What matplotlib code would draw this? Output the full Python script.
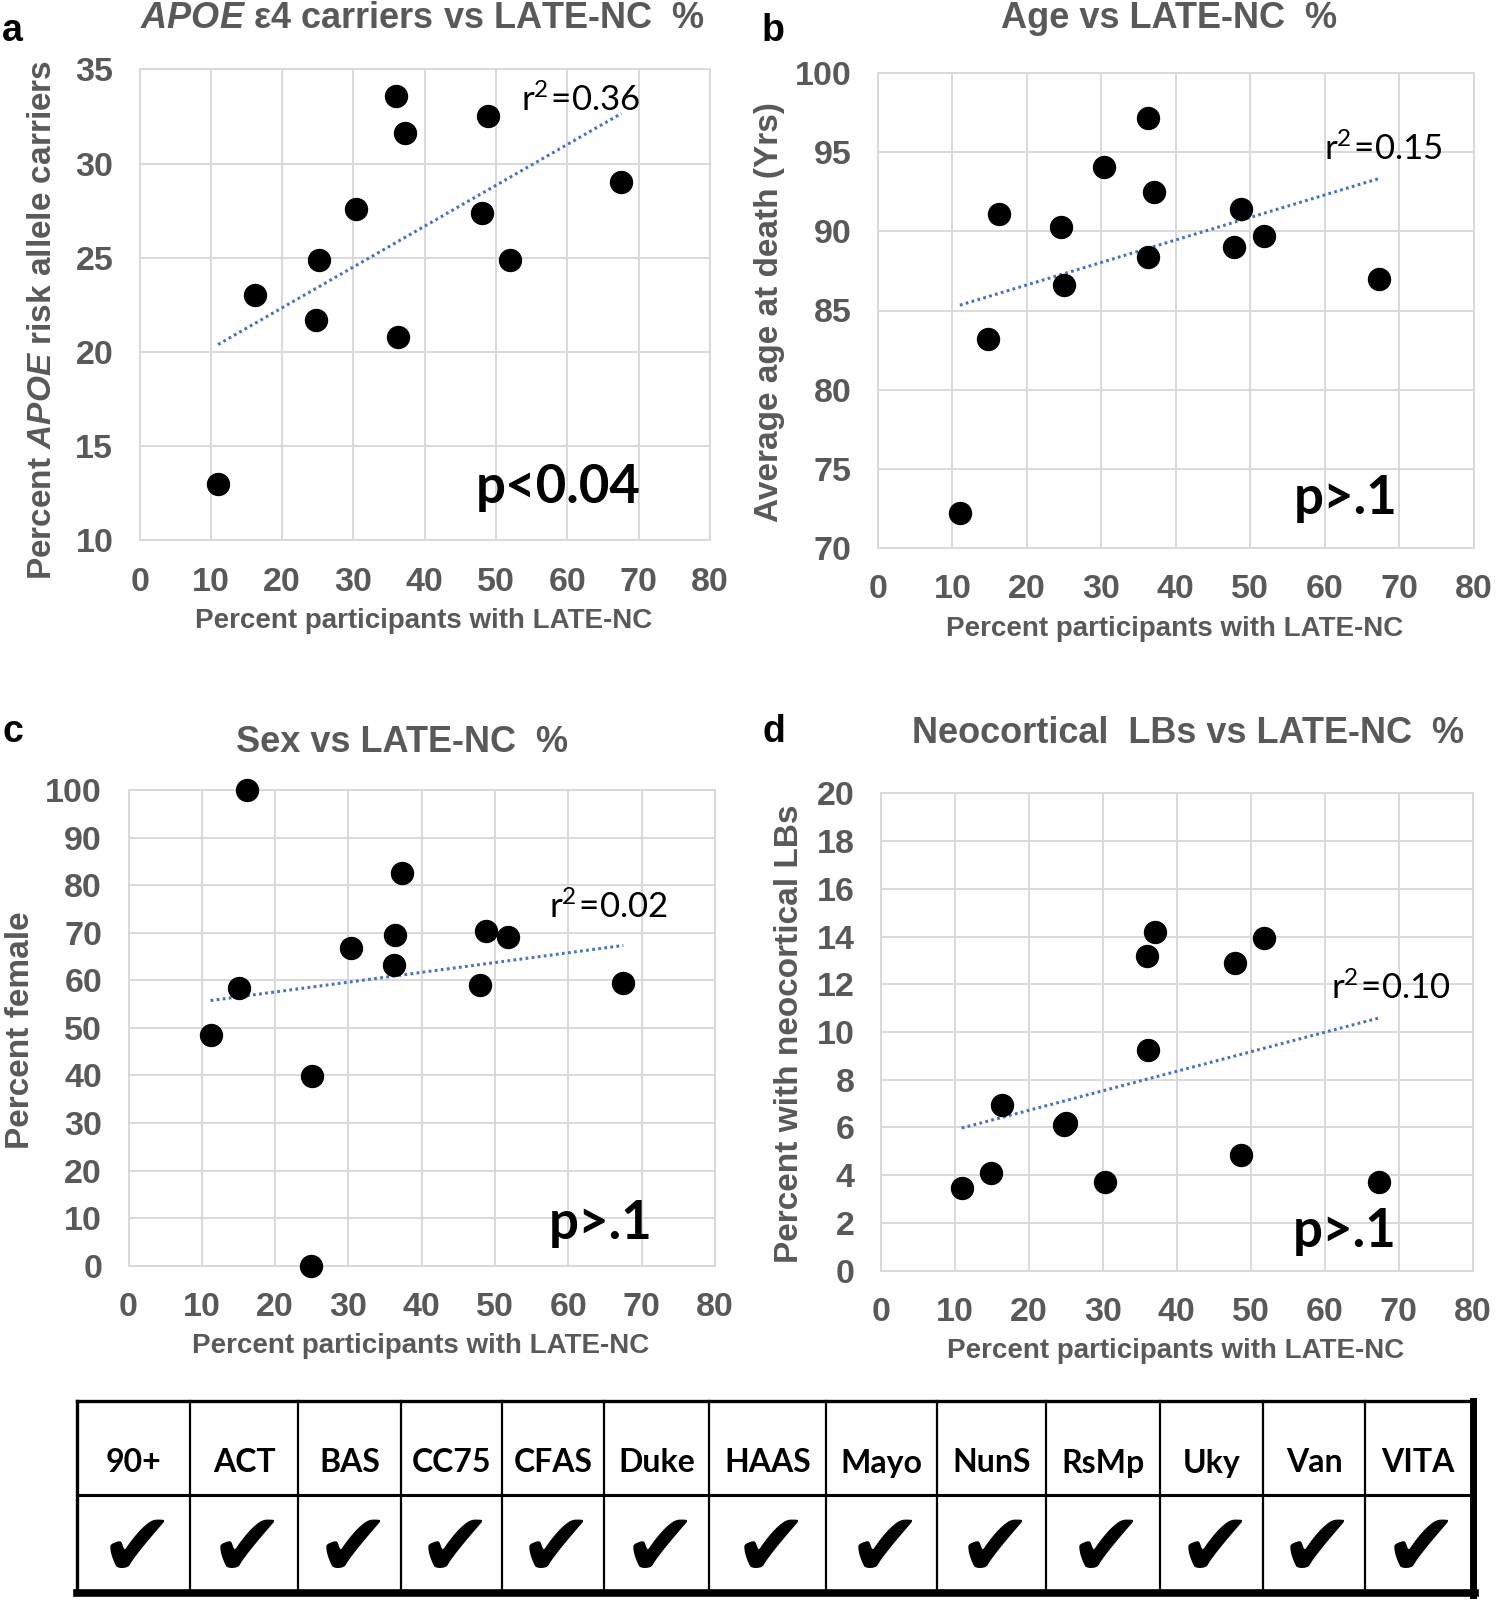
import matplotlib
matplotlib.use("Agg")
import matplotlib.pyplot as plt
import numpy as np

plt.rcParams['mathtext.fontset'] = 'custom'
plt.rcParams['mathtext.it'] = 'Liberation Sans:italic:bold'
plt.rcParams['mathtext.rm'] = 'Liberation Sans:bold'
plt.rcParams['mathtext.bf'] = 'Liberation Sans:bold'
plt.rcParams['mathtext.sf'] = 'Lato'

# ---------------- data ----------------
apoe_x = [11.0, 16.2, 24.7, 25.1, 30.3, 36.0, 37.2, 36.2, 48.1, 48.9, 51.9, 67.6]
apoe_y = [13.0, 23.0, 21.7, 24.9, 27.6, 33.6, 31.6, 20.8, 27.4, 32.5, 24.9, 29.0]

age_x = [11.0, 14.8, 16.3, 24.6, 25.0, 30.3, 36.2, 37.1, 36.2, 47.8, 48.8, 51.9, 67.3]
age_y = [72.2, 83.2, 91.1, 90.3, 86.6, 94.1, 97.15, 92.5, 88.4, 89.0, 91.45, 89.7, 87.0]

sex_x = [11.2, 15.1, 16.2, 25.0, 24.9, 30.3, 36.4, 36.2, 37.3, 48.0, 48.75, 51.8, 67.5]
sex_y = [48.6, 58.4, 100.0, 39.9, 0.0, 66.85, 69.5, 63.2, 82.7, 59.1, 70.5, 69.1, 59.5]

lb_x = [10.9, 14.8, 16.3, 24.7, 25.0, 30.3, 35.9, 37.0, 36.1, 47.85, 48.7, 51.8, 67.3]
lb_y = [3.45, 4.1, 6.95, 6.1, 6.2, 3.73, 13.2, 14.2, 9.24, 12.9, 4.86, 13.95, 3.73]

r2_values = ["0.36", "0.15", "0.02", "0.10"]
p_labels = ["p<0.04", "p>.1", "p>.1", "p>.1"]

cohorts = ["90+", "ACT", "BAS", "CC75", "CFAS", "Duke", "HAAS", "Mayo",
           "NunS", "RsMp", "Uky", "Van", "VITA"]
included = [True] * 13

# ---------------- layout ----------------
W, H = 1496, 1599
GRAY = "#595959"
fig = plt.figure(figsize=(W / 100, H / 100), dpi=100)


def fx(px):
    return px / W


def fy(py):
    return 1 - py / H


def r2_label(v):
    return r"$\mathsf{r^{2}\!=\!" + v + "}$"


def panel(rect, x, y, ylim, ystep, r2txt, r2pos, ptxt, ppos):
    l, r, t, b = rect
    ax = fig.add_axes([fx(l), fy(b), (r - l) / W, (b - t) / H])
    ax.set_xlim(0, 80)
    ax.set_ylim(*ylim)
    ax.set_xticks(np.arange(0, 81, 10))
    ax.set_yticks(np.arange(ylim[0], ylim[1] + 0.01, ystep))
    ax.grid(True, color="#D9D9D9", lw=1.4)
    ax.set_axisbelow(True)
    for s in ax.spines.values():
        s.set_color("#D9D9D9")
        s.set_linewidth(1.4)
    ax.tick_params(length=0, pad=19, labelsize=24.5, labelcolor=GRAY)
    for lab in ax.get_xticklabels() + ax.get_yticklabels():
        lab.set_fontweight("bold")
        lab.set_family("Liberation Sans")
    coef = np.polyfit(x, y, 1)
    xs = np.array([min(x), max(x)])
    ax.plot(xs, np.polyval(coef, xs), color="#4472C4", lw=2.2,
            ls=(0, (0.9, 1.1)), zorder=2)
    ax.scatter(x, y, s=250, color="black", zorder=3, clip_on=False)
    ax.text(r2pos[0], r2pos[1], r2_label(r2txt), family="Lato", fontsize=25,
            va="baseline", ha="left", color="black")
    ax.text(ppos[0], ppos[1], ptxt, family="Lato", fontweight="bold",
            fontsize=38, va="baseline", ha="left", color="black")
    return ax


panel((139.7, 709.8, 69.3, 540.4), apoe_x, apoe_y, (10, 35), 5,
      r2_values[0], (53.5, 32.8), p_labels[0], (47.2, 12.0))
panel((878.0, 1473.6, 73.4, 547.6), age_x, age_y, (70, 100), 5,
      r2_values[1], (59.9, 94.5), p_labels[1], (55.8, 72.1))
panel((128.5, 714.9, 790.3, 1265.6), sex_x, sex_y, (0, 100), 10,
      r2_values[2], (57.4, 73.2), p_labels[2], (57.4, 5.6))
panel((881.1, 1472.6, 793.4, 1270.6), lb_x, lb_y, (0, 20), 2,
      r2_values[3], (60.8, 11.4), p_labels[3], (55.7, 1.0))

# titles
tkw = dict(fontsize=26, fontweight="bold", color=GRAY, family="Liberation Sans",
           ha="center", va="center")
fig.text(fx(422), fy(19), r"$\mathit{APOE}$ ε4 carriers vs LATE-NC  %", **tkw)
fig.text(fx(1169), fy(19), "Age vs LATE-NC  %", **tkw)
fig.text(fx(402), fy(742), "Sex vs LATE-NC  %", **tkw)
fig.text(fx(1188), fy(734), "Neocortical  LBs vs LATE-NC  %", **tkw)

# panel letters
lkw = dict(fontsize=27, fontweight="bold", color="black", family="Liberation Sans",
           ha="left", va="center")
fig.text(fx(2), fy(31), "a", **lkw)
fig.text(fx(762), fy(31), "b", **lkw)
fig.text(fx(2), fy(732), "c", **lkw)
fig.text(fx(762), fy(732), "d", **lkw)

# axis labels
xkw = dict(fontsize=20, fontweight="bold", color=GRAY, family="Liberation Sans",
           ha="center", va="center")
fig.text(fx(424), fy(621), "Percent participants with LATE-NC", **xkw)
fig.text(fx(1175), fy(629), "Percent participants with LATE-NC", **xkw)
fig.text(fx(421), fy(1346), "Percent participants with LATE-NC", **xkw)
fig.text(fx(1176), fy(1351), "Percent participants with LATE-NC", **xkw)

ykw = dict(fontsize=24, fontweight="bold", color=GRAY, family="Liberation Sans",
           ha="center", va="center", rotation=90)
fig.text(fx(43), fy(320), r"Percent $\mathit{APOE}$ risk allele carriers", **ykw)
fig.text(fx(770), fy(312), "Average age at death (Yrs)", **ykw)
fig.text(fx(21), fy(1030), "Percent female", **ykw)
fig.text(fx(790), fy(1034), "Percent with neocortical LBs", **ykw)

# ---------------- table ----------------
tax = fig.add_axes([0, 0, 1, 1])
tax.set_xlim(0, W)
tax.set_ylim(H, 0)
tax.axis("off")
edges = [77, 190, 298, 401, 502, 604, 709, 826, 937, 1046, 1160, 1263, 1365, 1471]
top, mid, bot = 1401, 1495, 1593
for e in edges[1:-1]:
    tax.plot([e, e], [top, bot], color="black", lw=1.6)
tax.plot([edges[0], edges[-1]], [mid, mid], color="black", lw=2.2)
tax.plot([edges[0], edges[-1] + 3], [top, top], color="black", lw=2.4)
tax.plot([edges[0], edges[0]], [top, bot], color="black", lw=2.4)
tax.plot([edges[-1] + 2, edges[-1] + 2], [top, bot + 3], color="black", lw=5)
tax.plot([edges[0], edges[-1] + 4.5], [bot, bot], color="black", lw=5.5)
for i, name in enumerate(cohorts):
    cx = (edges[i] + edges[i + 1]) / 2
    tax.text(cx, 1463, name, family="Lato", fontweight="bold", fontsize=23,
             ha="center", va="center", color="black")
    if included[i]:
        tax.text(cx + 3, 1551, "\u2714", family="DejaVu Sans", fontsize=64,
                 ha="center", va="center", color="black")

fig.savefig("out.png", dpi=100)
